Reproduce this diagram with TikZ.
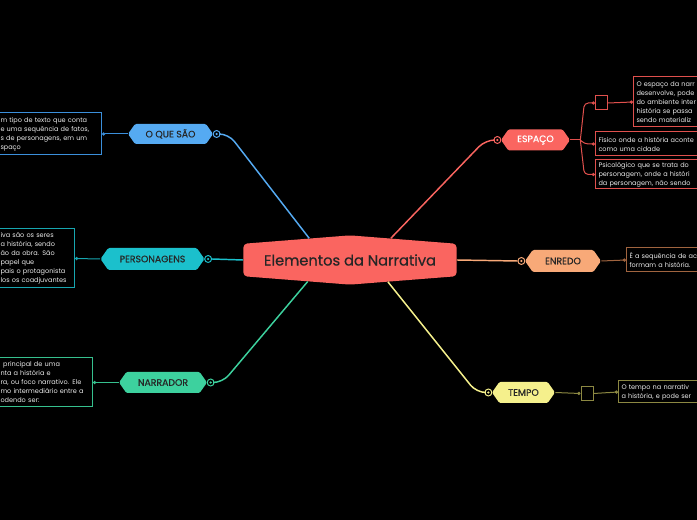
\documentclass[tikz,border=0pt]{standalone}
\usepackage{fontspec}
\setmainfont{Poppins}
\newfontfamily\medfont{Poppins}[FakeBold=0.5]
\usepackage{tikz}
\usetikzlibrary{positioning}
\usetikzlibrary{shapes.symbols}
\usetikzlibrary{arrows.meta}

\definecolor{coral}{HTML}{FA6560}
\definecolor{coraldark}{HTML}{E0504D}
\definecolor{skyblue}{HTML}{55AAF2}
\definecolor{skybluedark}{HTML}{3B8FDB}
\definecolor{tealc}{HTML}{1BC0CC}
\definecolor{tealdark}{HTML}{17A6B0}
\definecolor{mint}{HTML}{3DD19E}
\definecolor{mintdark}{HTML}{36C08E}
\definecolor{peach}{HTML}{F8A978}
\definecolor{peachdark}{HTML}{A0643F}
\definecolor{lemon}{HTML}{F5F08C}
\definecolor{lemondark}{HTML}{8C8842}

\begin{document}
\begin{tikzpicture}[x=0.75pt, y=-0.75pt,
  every node/.style={font=\small},
  branch/.style={shape=signal, signal to=west and east, signal pointer angle=110,
    rounded corners=1pt, inner sep=0pt, text=black!85,
    font=\medfont\fontsize{7}{8}\selectfont},
  knob/.style={circle, draw=#1, fill=black, line width=0.75pt, minimum size=5.2pt,
    inner sep=0pt, path picture={\fill[#1] (path picture bounding box.center) circle (0.9pt);}},
  leaf/.style={draw=#1, fill=black, line width=0.75pt, text=white!92!black, align=left,
    inner xsep=2.25pt, inner ysep=1.5pt, font=\fontsize{4.9}{6.75}\selectfont},
  dotline/.style={draw=#1, line width=0.75pt, -{Circle[length=2.4pt]}},
]
\fill[black] (0,0) rectangle (697,520);
\clip (0,0) rectangle (697,520);

% centre
\node[shape=signal, signal to=north and south, signal pointer angle=171,
      fill=coral, rounded corners=3pt, minimum width=160pt, minimum height=34.5pt,
      inner sep=0pt, text=black!85, font=\medfont\fontsize{11}{13}\selectfont]
      (main) at (350,260) {Elementos da Narrativa};

% left side
\node[branch, fill=skyblue, minimum width=63.75pt, minimum height=15pt] (qs) at (170.5,134) {O QUE SÃO};
\node[knob=skyblue, right=-0.5pt of qs] (qs-k) {};
\node[leaf=skybluedark, anchor=east, text width=73.5pt, minimum height=31.5pt] (qs-box) at (102,134)
  {m tipo de texto que conta\\e uma sequência de fatos,\\s de personagens, em um\\spaço};

\node[branch, fill=tealc, minimum width=78pt, minimum height=16.5pt] (pers) at (152.5,259) {PERSONAGENS};
\node[knob=tealc, right=-0.5pt of pers] (pers-k) {};
\node[leaf=tealdark, anchor=east, text width=53.25pt, minimum height=44.25pt] (pers-box) at (75,258.5)
  {iva são os seres\\a história, sendo\\ão da obra. São\\papel que\\pais o protagonista\\los os coadjuvantes};

\node[branch, fill=mint, minimum width=66pt, minimum height=15.75pt] (narr) at (163,382.5) {NARRADOR};
\node[knob=mint, right=-0.5pt of narr] (narr-k) {};
\node[leaf=mintdark, anchor=east, text width=66.75pt, minimum height=36.75pt] (narr-box) at (93,382.5)
  {\hspace{2pt}principal de uma\\nta a história e\\ra, ou foco narrativo. Ele\\mo intermediário entre a\\odendo ser:};

% right side
\node[branch, fill=coral, text=white, minimum width=51.75pt, minimum height=15.75pt] (esp) at (535.5,140) {ESPAÇO};
\node[knob=coral, left=-0.5pt of esp] (esp-k) {};
\coordinate[right=7.5pt of esp.east] (esp-j);
\node[draw=coraldark, line width=0.75pt, minimum width=9pt, minimum height=10.5pt, inner sep=0pt] (esp-a) at (601.5,103) {};
\node[leaf=coraldark, anchor=west, text width=90pt, minimum height=37.5pt] (esp-b) at (633,102)
  {O espaço da narr\\desenvolve, pode\\do ambiente inter\\história se passa\\sendo materializ};
\node[leaf=coraldark, anchor=west, text width=90pt, minimum height=18pt] (esp-c) at (595,144)
  {Físico onde a história aconte\\como uma cidade};
\node[leaf=coraldark, anchor=west, text width=90pt, minimum height=21.75pt] (esp-d) at (595,174.5)
  {Psicológico que se trata do\\personagem, onde a históri\\da personagem, não sendo};

\node[branch, fill=peach, minimum width=57pt, minimum height=16.5pt] (enr) at (563,261) {ENREDO};
\node[knob=peach, left=-0.5pt of enr] (enr-k) {};
\node[leaf=peachdark, anchor=west, text width=80pt, minimum height=18pt] (enr-box) at (626,260)
  {É a sequência de ac\\formam a história.};

\node[branch, fill=lemon, minimum width=47.25pt, minimum height=15.75pt] (tmp) at (523.5,392.5) {TEMPO};
\node[knob=lemon, left=-0.5pt of tmp] (tmp-k) {};
\node[draw=lemondark, line width=0.75pt, minimum width=9pt, minimum height=11pt, inner sep=0pt] (tmp-a) at (587,393.5) {};
\node[leaf=lemondark, anchor=west, text width=80pt, minimum height=16.5pt] (tmp-b) at (618,392)
  {O tempo na narrativ\\a história, e pode ser};

% main branches
\draw[skyblue, line width=1.1pt, rounded corners=7] (qs-k.east) -- ++(8,0) -- (main.152);
\draw[tealc, line width=1.1pt] (pers-k.east) -- (main.west);
\draw[mint, line width=1.1pt, rounded corners=7] (narr-k.east) -- ++(8,0) -- (main.207);
\draw[coral, line width=1.1pt, rounded corners=7] (esp-k.west) -- ++(-8,0) -- (main.28);
\draw[peach, line width=1.1pt] (enr-k.west) -- (main.east);
\draw[lemon, line width=1.1pt, rounded corners=7] (tmp-k.west) -- ++(-8,0) -- (main.-30);

% leaves
\draw[dotline=skybluedark] (qs.west) -- (qs-box.east);
\draw[dotline=tealdark] (pers.west) -- (pers-box.east);
\draw[dotline=mintdark] (narr.west) -- (narr-box.east);

\draw[coraldark, line width=0.75pt] (esp.east) -- (esp-j);
\draw[dotline=coraldark, rounded corners=3] (esp-j) -- ([xshift=3pt]esp-j |- esp-a.west) -- (esp-a.west);
\draw[dotline=coraldark, rounded corners=3] (esp-j) -- ([xshift=3pt]esp-j |- esp-c.west) -- (esp-c.west);
\draw[dotline=coraldark, rounded corners=3] (esp-j) -- ([xshift=3pt]esp-j |- esp-d.west) -- (esp-d.west);
\draw[dotline=coraldark] (esp-a.east) -- (esp-b.west);

\draw[dotline=peachdark] (enr.east) -- (enr-box.west);
\draw[dotline=lemondark] (tmp.east) -- (tmp-a.west);
\draw[dotline=lemondark] (tmp-a.east) -- (tmp-b.west);
\end{tikzpicture}
\end{document}
